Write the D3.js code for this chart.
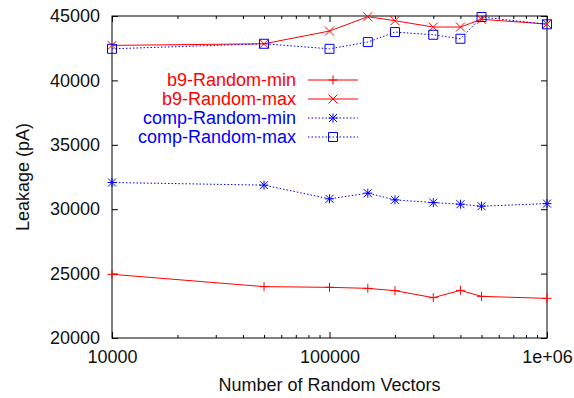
<!DOCTYPE html>
<html>
<head>
<meta charset="utf-8">
<script src="https://cdn.jsdelivr.net/npm/d3@7"></script>
<style>
  body { margin: 0; background: #fff; }
  svg { display: block; }
</style>
</head>
<body>
<svg id="chart"></svg>
<script>
// Data
const vectorCounts = [10000, 50000, 100000, 150000, 200000, 300000, 400000, 500000, 1000000];
const b9RandomMin = [24945, 23988, 23933, 23855, 23676, 23131, 23699, 23232, 23076];
const b9RandomMax = [42718, 42843, 43832, 44945, 44634, 44143, 44143, 44743, 44377];
const compRandomMin = [32072, 31869, 30802, 31246, 30724, 30514, 30389, 30234, 30436];
const compRandomMax = [42453, 42843, 42453, 42975, 43754, 43544, 43232, 44922, 44354];

const xTickValues = [10000, 100000, 1000000];
const xTickLabels = ["10000", "100000", "1e+06"];
const yTickValues = [20000, 25000, 30000, 35000, 40000, 45000];

const seriesNames = ["b9-Random-min", "b9-Random-max", "comp-Random-min", "comp-Random-max"];
const seriesValues = [b9RandomMin, b9RandomMax, compRandomMin, compRandomMax];

const width = 574;
const height = 398;
const margin = { top: 16, right: 27, bottom: 60, left: 112 };
const innerW = width - margin.left - margin.right;
const innerH = height - margin.top - margin.bottom;
const font = "'Liberation Sans', Arial, Helvetica, sans-serif";
const fontSize = 18;

const svg = d3.select("#chart").attr("width", width).attr("height", height);
svg.append("rect").attr("width", width).attr("height", height).attr("fill", "#fff");

const g = svg.append("g").attr("transform", `translate(${margin.left},${margin.top})`);

const x = d3.scaleLog().domain([10000, 1000000]).range([0, innerW]);
const y = d3.scaleLinear().domain([20000, 45000]).range([innerH, 0]);

// minor ticks for the log axis (2..9 per decade)
const minorTicks = [];
[10000, 100000].forEach((base) => {
  for (let k = 2; k <= 9; k++) minorTicks.push(base * k);
});

const styleAxis = (sel) => {
  sel.select(".domain").remove();
  sel.selectAll("line").attr("stroke", "#000").attr("stroke-width", 1);
  sel.selectAll("text")
    .style("font-family", font)
    .style("font-size", fontSize + "px")
    .attr("fill", "#111");
};

// bottom axis, labels
g.append("g")
  .attr("transform", `translate(0,${innerH})`)
  .call(d3.axisBottom(x).tickValues(xTickValues)
    .tickFormat((d, i) => xTickLabels[i]).tickSize(-6).tickSizeOuter(0))
  .call(styleAxis)
  .selectAll("text").attr("dy", null).attr("y", 25);

g.append("g")
  .attr("transform", `translate(0,${innerH})`)
  .call(d3.axisBottom(x).tickValues(minorTicks).tickFormat("").tickSize(-3).tickSizeOuter(0))
  .call(styleAxis);

// top mirror
g.append("g")
  .call(d3.axisTop(x).tickValues(xTickValues).tickFormat("").tickSize(-6).tickSizeOuter(0))
  .call(styleAxis);
g.append("g")
  .call(d3.axisTop(x).tickValues(minorTicks).tickFormat("").tickSize(-3).tickSizeOuter(0))
  .call(styleAxis);

// left axis
g.append("g")
  .call(d3.axisLeft(y).tickValues(yTickValues).tickFormat(d3.format("d"))
    .tickSize(-6).tickPadding(12).tickSizeOuter(0))
  .call(styleAxis);

// right mirror
g.append("g")
  .attr("transform", `translate(${innerW},0)`)
  .call(d3.axisRight(y).tickValues(yTickValues).tickFormat("").tickSize(-6).tickSizeOuter(0))
  .call(styleAxis);

// frame
g.append("rect")
  .attr("x", 0).attr("y", 0)
  .attr("width", innerW).attr("height", innerH)
  .attr("fill", "none").attr("stroke", "#000").attr("stroke-width", 1);

// axis titles
svg.append("text")
  .attr("x", margin.left + innerW / 2)
  .attr("y", 391)
  .attr("text-anchor", "middle")
  .style("font-family", font).style("font-size", fontSize + "px")
  .attr("fill", "#111")
  .text("Number of Random Vectors");

svg.append("text")
  .attr("transform", `translate(29,${margin.top + innerH / 2}) rotate(-90)`)
  .attr("text-anchor", "middle")
  .style("font-family", font).style("font-size", fontSize + "px")
  .attr("fill", "#111")
  .text("Leakage (pA)");

// symbols
const s = 4.5;
const symbolPaths = {
  plus: `M${-s},0H${s}M0,${-s}V${s}`,
  cross: `M${-s},${-s}L${s},${s}M${-s},${s}L${s},${-s}`,
  star: `M${-s},0H${s}M0,${-s}V${s}M${-s + 0.5},${-s + 0.5}L${s - 0.5},${s - 0.5}M${-s + 0.5},${s - 0.5}L${s - 0.5},${-s + 0.5}`,
  square: `M${-s},${-s}H${s}V${s}H${-s}Z`,
};

const seriesStyle = [
  { color: "#ff0000", dash: null, symbol: "plus" },
  { color: "#ff0000", dash: null, symbol: "cross" },
  { color: "#0000ff", dash: "1.5,2", symbol: "star" },
  { color: "#0000ff", dash: "1.5,2", symbol: "square" },
];

const line = d3.line()
  .x((d) => x(d[0]))
  .y((d) => y(d[1]));

seriesValues.forEach((vals, i) => {
  const st = seriesStyle[i];
  const pts = vals.map((v, j) => [vectorCounts[j], v]);

  g.append("path")
    .datum(pts)
    .attr("fill", "none")
    .attr("stroke", st.color)
    .attr("stroke-width", 1)
    .attr("stroke-dasharray", st.dash)
    .attr("d", line);

  g.selectAll(null)
    .data(pts)
    .enter()
    .append("path")
    .attr("transform", (d) => `translate(${x(d[0])},${y(d[1])})`)
    .attr("d", symbolPaths[st.symbol])
    .attr("fill", "none")
    .attr("stroke", st.color)
    .attr("stroke-width", 1);
});

// legend
const legend = svg.append("g").attr("transform", "translate(296,80)");
seriesNames.forEach((name, i) => {
  const st = seriesStyle[i];
  const row = legend.append("g").attr("transform", `translate(0,${i * 19})`);
  row.append("text")
    .attr("x", 0).attr("y", 6)
    .attr("text-anchor", "end")
    .style("font-family", font).style("font-size", fontSize + "px")
    .attr("fill", st.color)
    .text(name);
  row.append("line")
    .attr("x1", 12).attr("x2", 62).attr("y1", 0).attr("y2", 0)
    .attr("stroke", st.color).attr("stroke-width", 1)
    .attr("stroke-dasharray", st.dash);
  row.append("path")
    .attr("transform", "translate(37,0)")
    .attr("d", symbolPaths[st.symbol])
    .attr("fill", "none")
    .attr("stroke", st.color)
    .attr("stroke-width", 1);
});
</script>
</body>
</html>
